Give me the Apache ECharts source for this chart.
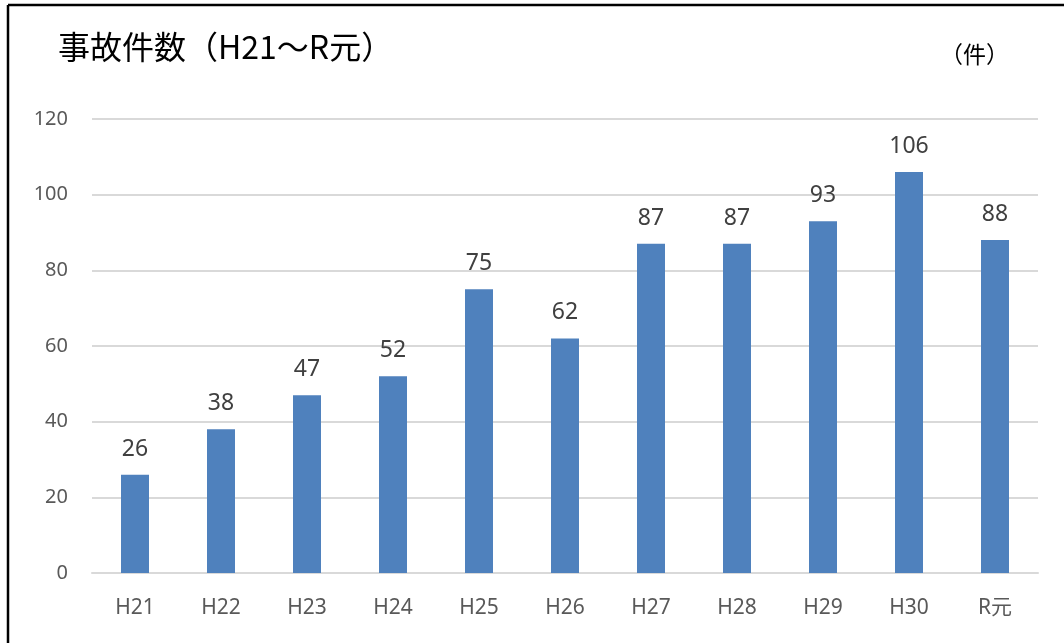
<!DOCTYPE html>
<html>
<head>
<meta charset="utf-8">
<script src="https://cdn.jsdelivr.net/npm/echarts@6/dist/echarts.min.js"></script>
<style>
  html, body { margin: 0; padding: 0; background: #fff; }
  #main { width: 1064px; height: 643px; }
</style>
</head>
<body>
<div id="main"></div>
<script>
const years = ['H21', 'H22', 'H23', 'H24', 'H25', 'H26', 'H27', 'H28', 'H29', 'H30', 'R元'];
const accidents = [26, 38, 47, 52, 75, 62, 87, 87, 93, 106, 88];

const chart = echarts.init(document.getElementById('main'));

chart.setOption({
  animation: false,
  backgroundColor: '#fff',
  textStyle: { fontFamily: '"Noto Sans", "Noto Sans CJK JP", sans-serif' },
  title: [
    {
      text: '事故件数（H21～R元）',
      left: 53,
      top: 26,
      textStyle: {
        fontFamily: '"Noto Sans CJK JP", sans-serif',
        fontSize: 32,
        fontWeight: 'normal',
        color: '#000'
      }
    },
    {
      text: '（件）',
      left: 935,
      top: 38,
      textStyle: {
        fontFamily: '"Noto Sans CJK JP", sans-serif',
        fontSize: 23,
        fontWeight: 'normal',
        color: '#000'
      }
    }
  ],
  graphic: [
    // 外枠（上と左だけ見える）
    { type: 'line', shape: { x1: 8, y1: 5, x2: 1064, y2: 5 }, style: { stroke: '#000', lineWidth: 2.5 } },
    { type: 'line', shape: { x1: 8, y1: 5, x2: 8, y2: 643 }, style: { stroke: '#000', lineWidth: 2.5 } }
  ],
  grid: { left: 92, right: 26, top: 119, bottom: 70 },
  xAxis: {
    type: 'category',
    data: years,
    axisLine: { lineStyle: { color: '#d9d9d9', width: 2 } },
    axisTick: { show: false },
    axisLabel: { color: '#595959', fontSize: 21, margin: 25 }
  },
  yAxis: {
    type: 'value',
    min: 0,
    max: 120,
    interval: 20,
    axisLine: { show: false },
    axisTick: { show: false },
    axisLabel: { color: '#595959', fontSize: 20, margin: 24 },
    splitLine: { lineStyle: { color: '#d9d9d9', width: 2 } }
  },
  series: [
    {
      type: 'bar',
      data: accidents,
      barWidth: 28,
      itemStyle: { color: '#4f81bd' },
      label: {
        show: true,
        position: 'top',
        distance: 14,
        color: '#404040',
        fontSize: 23
      }
    }
  ]
});
</script>
</body>
</html>
